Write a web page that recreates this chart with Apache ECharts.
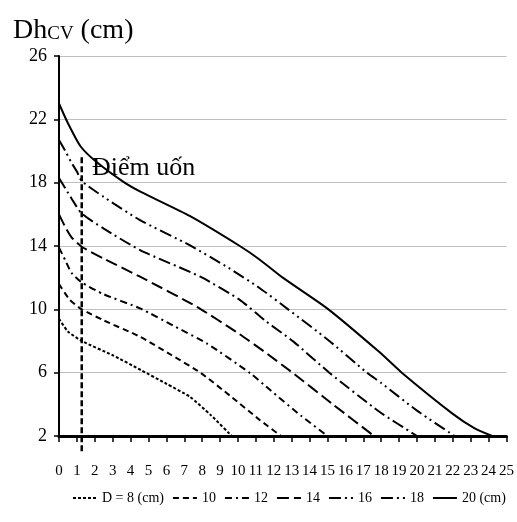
<!DOCTYPE html>
<html>
<head>
<meta charset="utf-8">
<script src="https://cdn.jsdelivr.net/npm/echarts@6/dist/echarts.min.js"></script>
<style>html,body{margin:0;padding:0;background:#fff}#c{width:517px;height:522px}</style>
</head>
<body>
<div id="c"></div>
<script>
// Data (x = position, y = Dh_CV in cm)
const seriesNames = ['D = 8 (cm)', '10', '12', '14', '16', '18', '20 (cm)'];
const d8  = [[0,9.4],[0.5,8.6],[1.27,8.0],[3,7.1],[4.6,6.15],[6,5.3],[7.3,4.48],[8.5,3.3],[9.65,2]];
const d10 = [[0,11.6],[0.6,10.6],[1.27,10.0],[2.5,9.3],[4.53,8.27],[6.3,7.1],[7.9,6.0],[9.6,4.5],[11.23,3.0],[12.4,2]];
const d12 = [[0,13.9],[0.35,13.1],[0.7,12.3],[1.27,11.7],[2.5,10.95],[4.53,10.06],[6.5,8.9],[8.25,7.85],[10.7,5.95],[11.8,4.9],[13.5,3.3],[15,2]];
const d14 = [[0,16.0],[0.35,15.2],[0.7,14.55],[1.27,13.95],[2.5,13.2],[4.53,12.06],[7.7,10.16],[10,8.5],[11.5,7.3],[13.1,5.95],[15.3,4.0],[17.6,2]];
const d16 = [[0,18.3],[0.7,17.0],[1.27,16.05],[2.5,15.1],[4.53,13.74],[7.9,12.06],[10.1,10.6],[11.5,9.3],[13.1,7.96],[15.1,6.0],[17.9,3.53],[20,2]];
const d18 = [[0,20.7],[0.4,19.9],[0.7,19.25],[1.0,18.7],[1.27,18.1],[2.5,17.1],[4.5,15.65],[7.3,14.05],[9.5,12.6],[11.2,11.35],[12.8,10],[15,8.1],[17.2,6],[18,5.35],[20,3.6],[22.1,2]];
const d20 = [[0,23],[0.5,21.75],[1.2,20.3],[2.1,19.3],[3.6,18.05],[4.6,17.4],[7.3,15.9],[10.1,14],[11.2,13.15],[12.5,12],[15.05,10],[17.9,7.3],[19.15,6],[22,3.4],[23.2,2.5],[24.2,2]];
const inflectionLine = [[1.27,19.6],[1.27,0.9]];
const inflectionLabelPos = [[1.84,18.9]];
const inflectionText = 'Điểm uốn';
const yTicks = {min: 2, max: 26, interval: 4};
const xTicks = {min: 0, max: 25, interval: 1};

const allData = [d8, d10, d12, d14, d16, d18, d20];
const dashes = [[3,2],[6,4],[7,4,2,4],[12,5],[12,4,2,4],[12,4,2,4,2,4],'solid'];
const font = 'Liberation Serif';

const series = allData.map((d, i) => ({
  name: seriesNames[i],
  type: 'line',
  data: d,
  smooth: 0.2,
  symbol: 'none',
  lineStyle: {color: '#000', width: 2, type: dashes[i]},
  itemStyle: {color: '#000'},
  z: 3
}));
series.push({
  name: 'inflection',
  type: 'line',
  data: inflectionLine,
  symbol: 'none',
  clip: false,
  lineStyle: {color: '#000', width: 2.5, type: [6,3]},
  z: 4,
  silent: true
});
series.push({
  name: 'label',
  type: 'scatter',
  data: inflectionLabelPos,
  symbolSize: 0,
  silent: true,
  itemStyle: {opacity: 1, color: '#000'},
  label: {show: true, position: 'right', distance: 0, formatter: inflectionText,
    fontFamily: font, fontSize: 26, color: '#000', opacity: 1},
  z: 5
});

const chart = echarts.init(document.getElementById('c'));
chart.setOption({
  animation: false,
  backgroundColor: '#fff',
  title: {
    text: '{a|Dh}{b|CV}{a| (cm)}',
    left: 8, top: 12,
    textStyle: {fontWeight: 'normal', rich: {
      a: {fontFamily: font, fontSize: 28, fontWeight: 'normal', color: '#000', verticalAlign: 'bottom'},
      b: {fontFamily: font, fontSize: 19, fontWeight: 'normal', color: '#000', verticalAlign: 'bottom', padding: [0,0,1,0]}
    }}
  },
  grid: {left: 59, top: 56, right: 10, bottom: 86, containLabel: false},
  legend: {
    data: seriesNames,
    bottom: 17, left: 72, width: 445,
    padding: 0,
    itemWidth: 24, itemHeight: 10, itemGap: 8,
    itemStyle: {opacity: 0},
    textStyle: {fontFamily: font, fontSize: 14, color: '#000'}
  },
  xAxis: {
    type: 'value', min: xTicks.min, max: xTicks.max, interval: xTicks.interval,
    axisLine: {show: true, lineStyle: {color: '#000', width: 3}},
    axisTick: {show: true, length: 6, lineStyle: {color: '#000', width: 1.5}},
    axisLabel: {fontFamily: font, fontSize: 15, color: '#000', margin: 28},
    splitLine: {show: false}
  },
  yAxis: {
    type: 'value', min: yTicks.min, max: yTicks.max, interval: yTicks.interval,
    axisLine: {show: true, lineStyle: {color: '#000', width: 2}},
    axisTick: {show: true, length: 5, lineStyle: {color: '#000', width: 1.5}},
    axisLabel: {fontFamily: font, fontSize: 18, color: '#000', margin: 12},
    splitLine: {show: true, lineStyle: {color: '#bfbfbf', width: 1}}
  },
  series: series
});
</script>
</body>
</html>
